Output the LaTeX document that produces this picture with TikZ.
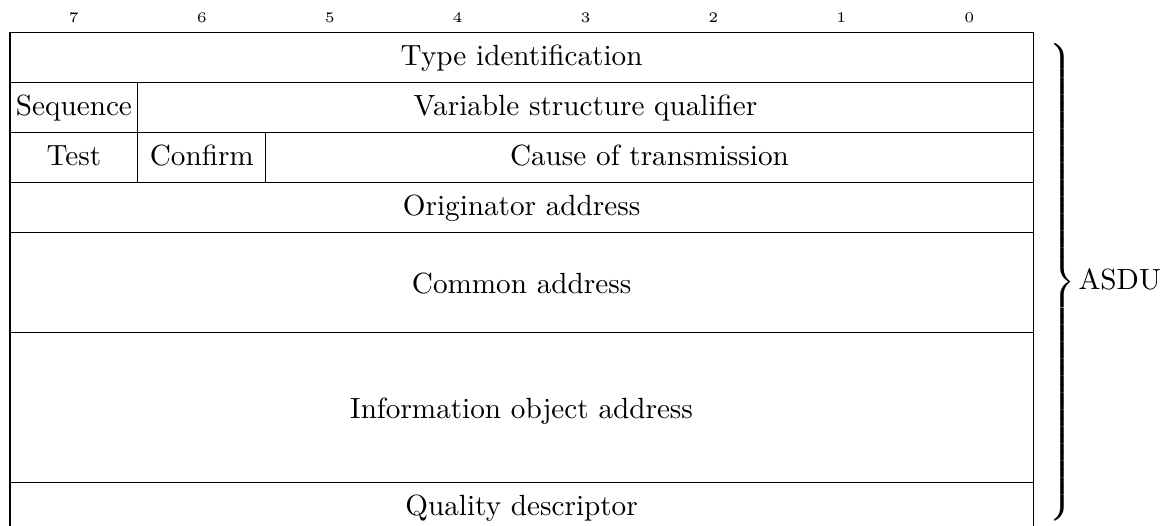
\documentclass[tikz,border=0pt]{standalone}
\usepackage{graphicx}
\begin{document}
\begin{tikzpicture}[x=0.3425pt, y=-0.3425pt,
  rule/.style={line width=0.4pt},
  label/.style={anchor=base, inner sep=0pt},
  bitnum/.style={font=\tiny, anchor=base, inner sep=0pt},
  plain/.style={inner sep=0pt}]
\clip (0,0) rectangle (1162,526);

% column edges and row edges of the field grid
\def\xa{10}\def\xb{137.9}\def\xc{265.8}\def\xr{1033.2}\def\xm{521.6}

% bit numbers over the columns
\foreach \b [count=\i from 0] in {7,6,5,4,3,2,1,0}
  \node[bitnum] (bit\b) at ({10+127.9*(\i+0.5)}, 22.7) {\b};

% grid
\draw[rule] (\xa,32.7) rectangle (\xr,532.7);
\foreach \y in {82.7,132.7,182.7,232.7,332.7,482.7}
  \draw[rule] (\xa,\y) -- (\xr,\y);
\draw[rule] (\xb,82.7) -- (\xb,182.7);
\draw[rule] (\xc,132.7) -- (\xc,182.7);

% field names
\node[label] (type)    at (\xm,65.7)  {Type identification};
\node[label] (seq)     at ({(\xa+\xb)/2},115.7) {Sequence};
\node[label] (vsq)     at ({(\xb+\xr)/2},115.7) {Variable structure qualifier};
\node[label] (test)    at ({(\xa+\xb)/2},165.7) {Test};
\node[label] (confirm) at ({(\xb+\xc)/2},165.7) {Confirm};
\node[label] (cot)     at ({(\xc+\xr)/2},165.7) {Cause of transmission};
\node[label] (orig)    at (\xm,215.7) {Originator address};
\node[label] (common)  at (\xm,293.3) {Common address};
\node[label] (ioa)     at (\xm,418.7) {Information object address};
\node[label] (qd)      at (\xm,515.7) {Quality descriptor};

% brace grouping all fields
\node[plain, anchor=west] (brace) at (1045,282.5)
  {\resizebox*{\width}{163.4pt}{$\delimiterfactor=1000 \delimitershortfall=0pt
   \left.\rule[\dimexpr2.5pt-81.7pt\relax]{0pt}{163.4pt}\right\}$}};
\node[plain, anchor=base west] (asdu) at (1078,290) {ASDU};
\end{tikzpicture}
\end{document}
